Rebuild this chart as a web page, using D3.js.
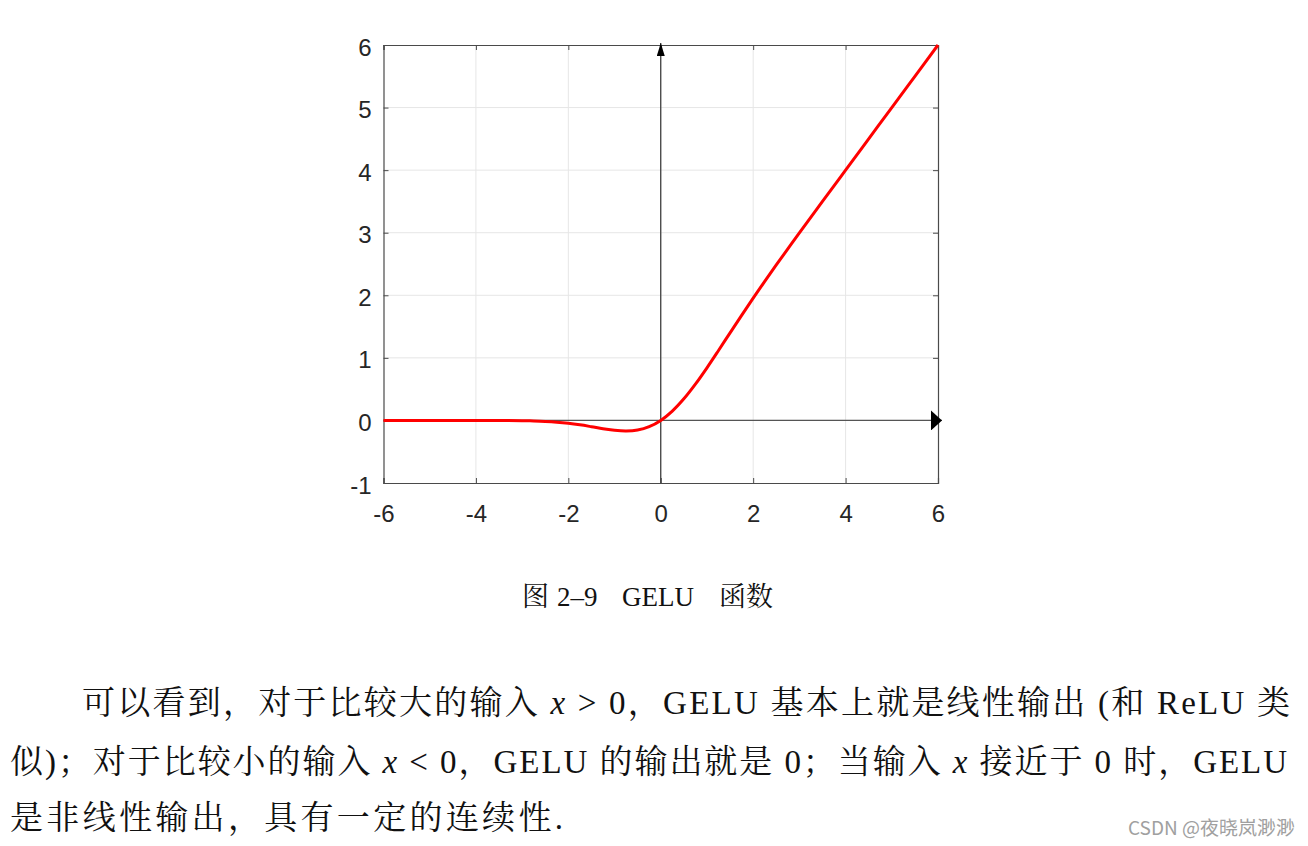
<!DOCTYPE html>
<html><head><meta charset="utf-8">
<script src="https://cdn.jsdelivr.net/npm/d3@7"></script>
<style>html,body{margin:0;padding:0;background:#fff;}</style>
</head><body>
<svg id="c" width="1308" height="846"></svg>
<script>
// Data (GELU curve)
const xValues = [-6,-5.5,-5,-4.5,-4,-3.5,-3,-2.75,-2.5,-2.25,-2,-1.75,-1.5,-1.25,-1,-0.75,-0.5,-0.25,0,0.25,0.5,0.75,1,1.25,1.5,1.75,2,2.25,2.5,2.75,3,3.5,4,4.5,5,5.5,6];
const yValues = [0,0,0,0,-0.0001,-0.0008,-0.004,-0.0082,-0.0155,-0.0275,-0.0455,-0.0701,-0.1002,-0.1321,-0.1587,-0.17,-0.1543,-0.1003,0,0.1497,0.3457,0.58,0.8413,1.1179,1.3998,1.6799,1.9545,2.2225,2.4845,2.7418,2.996,3.4992,3.9999,4.5,5,5.5,6];
const xTicks = [-6,-4,-2,0,2,4,6];
const yTicks = [-1,0,1,2,3,4,5,6];
const captionParts = ["图","2–9","GELU","函数"];
const watermark = "CSDN @夜晓岚渺渺";

const svg = d3.select("#c");
svg.append("rect").attr("width",1308).attr("height",846).attr("fill","#fff");

const L=383.5, R=938, T=45, B=483;
const x = d3.scaleLinear().domain([-6,6]).range([L,R]);
const y = d3.scaleLinear().domain([-1,6]).range([B,T]);

const g = svg.append("g");
// grid
g.append("g").selectAll("line").data(xTicks.slice(1,-1)).join("line")
  .attr("x1",d=>x(d)).attr("x2",d=>x(d)).attr("y1",T).attr("y2",B)
  .attr("stroke","#e6e6e6").attr("stroke-width",1);
g.append("g").selectAll("line").data(yTicks.slice(1,-1)).join("line")
  .attr("y1",d=>y(d)).attr("y2",d=>y(d)).attr("x1",L).attr("x2",R)
  .attr("stroke","#e6e6e6").attr("stroke-width",1);

// axes with inward ticks
const fontTick = "'Liberation Sans', Arial, sans-serif";
const fmt = d=>String(d);
const ax = g.append("g").attr("transform",`translate(0,${B})`)
  .call(d3.axisBottom(x).tickValues(xTicks).tickSize(-5).tickPadding(31).tickFormat(fmt));
const axT = g.append("g").attr("transform",`translate(0,${T})`)
  .call(d3.axisTop(x).tickValues(xTicks).tickSize(-5).tickFormat(""));
const ay = g.append("g").attr("transform",`translate(${L},0)`)
  .call(d3.axisLeft(y).tickValues(yTicks).tickSize(-5).tickPadding(12).tickFormat(fmt));
const ayR = g.append("g").attr("transform",`translate(${R},0)`)
  .call(d3.axisRight(y).tickValues(yTicks).tickSize(-5).tickFormat(""));
[ax,axT,ay,ayR].forEach(a=>{
  a.select(".domain").attr("stroke","#4a4a4a").attr("stroke-width",1.2);
  a.selectAll(".tick line").attr("stroke","#4a4a4a");
  a.selectAll("text").attr("fill","#262626").style("font-family",fontTick).style("font-size","24px");
});
ax.selectAll("text").attr("dy","0.35em");
ay.selectAll("text").attr("dy","0.42em");

// arrow axes through origin
const defs = svg.append("defs");
defs.append("marker").attr("id","arrUp").attr("viewBox","0 0 13 8")
  .attr("refX",13).attr("refY",4).attr("markerWidth",13).attr("markerHeight",8)
  .attr("markerUnits","userSpaceOnUse").attr("orient","auto")
  .append("path").attr("d","M0,0 L13,4 L0,8 Z").attr("fill","#000");
defs.append("marker").attr("id","arrRight").attr("viewBox","0 0 11 20")
  .attr("refX",11).attr("refY",10).attr("markerWidth",11).attr("markerHeight",20)
  .attr("markerUnits","userSpaceOnUse").attr("orient","auto")
  .append("path").attr("d","M0,0 L11,10 L0,20 Z").attr("fill","#000");
g.append("line").attr("x1",x(0)).attr("x2",x(0)).attr("y1",B).attr("y2",T-2)
  .attr("stroke","#333").attr("stroke-width",1.2).attr("marker-end","url(#arrUp)");
g.append("line").attr("x1",L).attr("x2",R+4).attr("y1",y(0)).attr("y2",y(0))
  .attr("stroke","#555").attr("stroke-width",1.2).attr("marker-end","url(#arrRight)");

// curve
const pts = xValues.map((v,i)=>[v,yValues[i]]);
g.append("path").datum(pts)
  .attr("d",d3.line().x(d=>x(d[0])).y(d=>y(d[1])).curve(d3.curveCatmullRom))
  .attr("fill","none").attr("stroke","#ff0000").attr("stroke-width",3);

const serif = "'Liberation Serif','Noto Serif CJK SC','Noto Sans CJK SC',serif";
// caption
const capX = [522,557,622,719];
const cap = svg.append("text").attr("y",606)
  .style("font-family",serif).style("font-size","27px").attr("fill","#111");
captionParts.forEach((p,i)=>cap.append("tspan").attr("x",capX[i]).text(p));

// paragraph
const lines = [
  {x:82, y:714, w:1208, parts:[["可以看到，对于比较大的输入 "],["x","i"],[" > 0，GELU 基本上就是线性输出 (和 ReLU 类"]]},
  {x:10, y:773, w:1277, parts:[["似)；对于比较小的输入 "],["x","i"],[" < 0，GELU 的输出就是 0；当输入 "],["x","i"],[" 接近于 0 时，GELU"]]},
  {x:10, y:829, w:553, parts:[["是非线性输出，具有一定的连续性."]]}
];
lines.forEach(l=>{
  const t = svg.append("text").attr("x",l.x).attr("y",l.y)
    .style("font-family",serif).style("font-size","33px").attr("fill","#111")
    .attr("xml:space","preserve");
  l.parts.forEach(p=>{
    const s = t.append("tspan").text(p[0]);
    if(p[1]==="i") s.style("font-style","italic");
  });
  if(l.w){
    const nat = t.node().getComputedTextLength();
    if(Math.abs(nat-l.w)>2) t.attr("textLength",l.w).attr("lengthAdjust","spacing");
  }
});

// watermark
svg.append("text").attr("x",1295).attr("y",835).attr("text-anchor","end")
  .style("font-family","'Noto Sans CJK SC','Noto Sans',sans-serif").style("font-size","19px")
  .attr("fill","#a0a0a0").text(watermark);
</script>
</body></html>
